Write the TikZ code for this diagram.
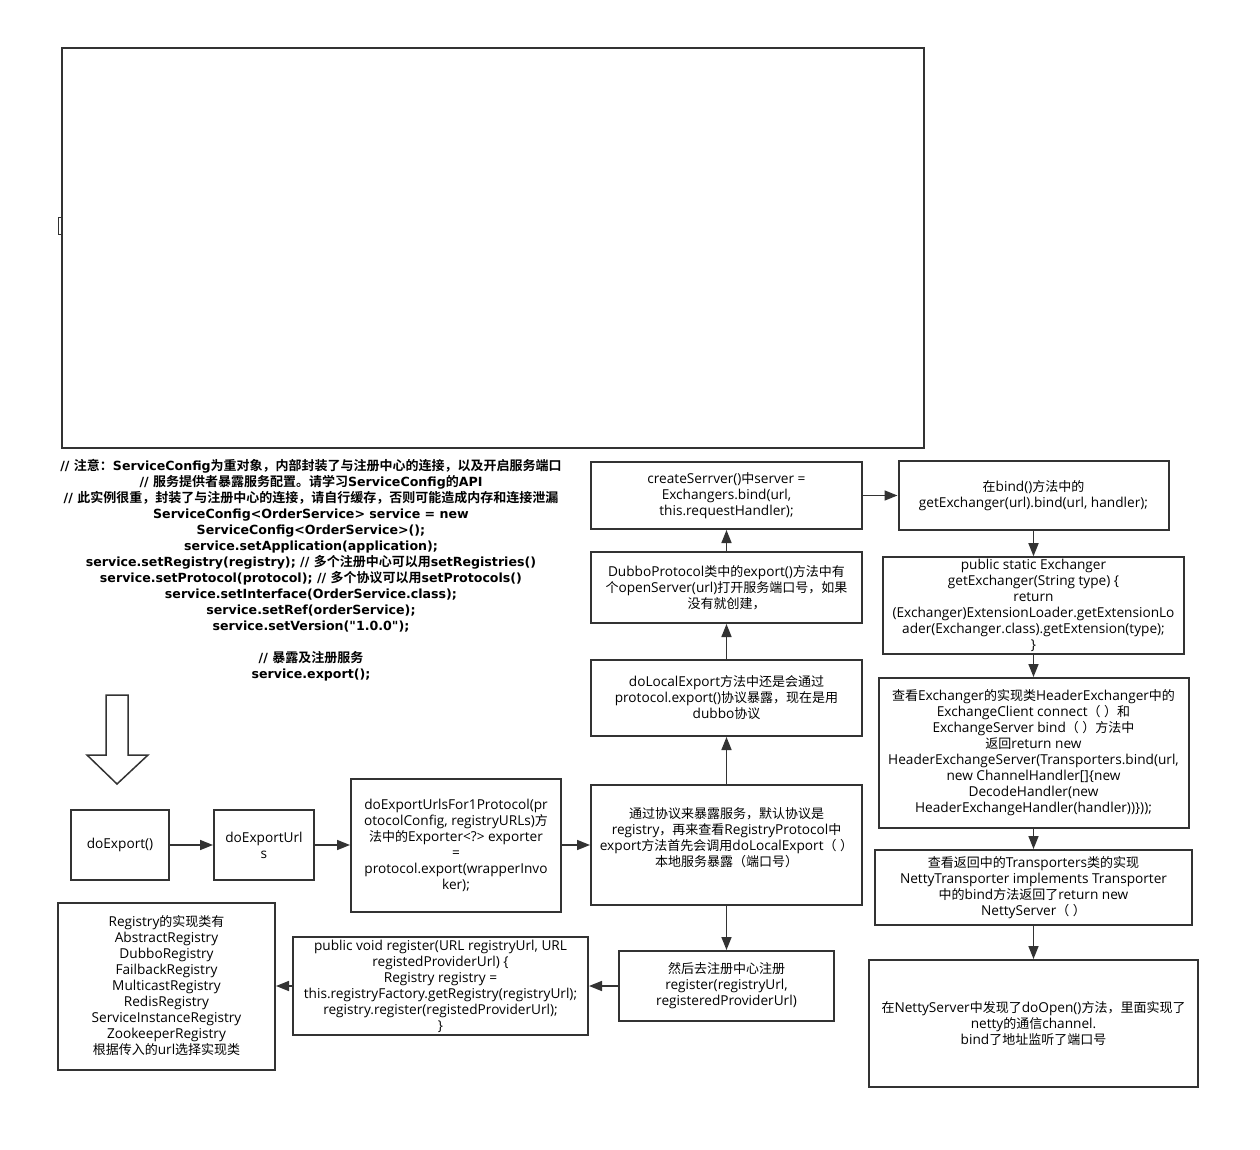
\documentclass[tikz,border=0pt]{standalone}
\usepackage{fontspec}
\setmainfont{Open Sans}[Scale=1.05]
\newfontfamily\openfam{Open Sans}[Scale=1.05]
\newfontfamily\codefam{DejaVu Sans}[Scale=0.97]
\newfontfamily\cjkfam{Noto Sans CJK SC}[BoldFont=* Bold]
% CJK characters go to the CJK family, the rest to the current latin family
\let\curlatin\openfam
\newcommand\latinfam{\curlatin}
\newXeTeXintercharclass\cjkcls
\newcount\cjkchar
\newcommand\setcjkrange[2]{\cjkchar=#1 \loop\XeTeXcharclass\cjkchar=\cjkcls \ifnum\cjkchar<#2 \advance\cjkchar by 1 \repeat}
\setcjkrange{"3000}{"303F}
\setcjkrange{"4E00}{"9FFF}
\setcjkrange{"FF00}{"FFEF}
\XeTeXinterchartoks 0 \cjkcls = {\cjkfam}
\XeTeXinterchartoks 4095 \cjkcls = {\cjkfam}
\XeTeXinterchartoks \cjkcls 0 = {\latinfam}
\XeTeXinterchartoks \cjkcls 4095 = {\latinfam}
\XeTeXinterchartokenstate=1
\usetikzlibrary{arrows.meta}
\definecolor{linec}{HTML}{333333}
\tikzset{
	box/.style={shape=rectangle, draw=linec, line width=2pt, align=center, inner sep=2pt, font=\fontsize{13}{16}\selectfont},
	wire/.style={draw=linec, line width=1.6pt, -{Triangle[length=13pt, width=10pt]}},
	codetext/.style={align=center, inner sep=0pt, font=\let\curlatin\codefam\codefam\fontsize{13}{16}\selectfont\bfseries},
}
\begin{document}
\begin{tikzpicture}[x=1pt, y=-1pt]
	\useasboundingbox (0,0) rectangle (1260,1150);
	% Boxes, texts and wires:
	\node[box, minimum width=862, minimum height=400] (frame) at (493,248) {};
	\node[draw=linec, line width=1pt, minimum width=4, minimum height=17, inner sep=0pt] (mark) at (60,226.5) {};
	\node[codetext] (note) at (311,570) {// 注意：ServiceConfig为重对象，内部封装了与注册中心的连接，以及开启服务端口\\
		// 服务提供者暴露服务配置。请学习ServiceConfig的API\\
		// 此实例很重，封装了与注册中心的连接，请自行缓存，否则可能造成内存和连接泄漏\\
		ServiceConfig<OrderService> service = new\\
		ServiceConfig<OrderService>();\\
		service.setApplication(application);\\
		service.setRegistry(registry); // 多个注册中心可以用setRegistries()\\
		service.setProtocol(protocol); // 多个协议可以用setProtocols()\\
		service.setInterface(OrderService.class);\\
		service.setRef(orderService);\\
		service.setVersion(\symbol{34}1.0.0\symbol{34});\\[16pt]
		// 暴露及注册服务\\
		service.export();};
	\draw[linec, line width=1.5pt, fill=white] (106,695) -- (128,695) -- (128,755) -- (148,755) -- (117,784) -- (87,755) -- (106,755) -- cycle;
	\node[box, minimum width=98, minimum height=70] (doexport) at (120,845) {doExport()};
	\node[box, minimum width=100, minimum height=70] (urls) at (264,845) {doExportUrl\\s};
	\node[box, minimum width=210, minimum height=133] (for1) at (456,845) {doExportUrlsFor1Protocol(pr\\otocolConfig, registryURLs)方\\法中的Exporter<?> exporter\\=\\protocol.export(wrapperInvo\\ker);};
	\node[box, minimum width=271, minimum height=120] (expose) at (726.5,845) {通过协议来暴露服务，默认协议是\\registry，再来查看RegistryProtocol中\\export方法首先会调用doLocalExport（ ）\\本地服务暴露（端口号）\\};
	\node[box, minimum width=271, minimum height=76] (local) at (726.5,698) {doLocalExport方法中还是会通过\\protocol.export()协议暴露，现在是用\\dubbo协议};
	\node[box, minimum width=271, minimum height=71] (dubbo) at (726.5,587.5) {DubboProtocol类中的export()方法中有\\个openServer(url)打开服务端口号，如果\\没有就创建，};
	\node[box, minimum width=271, minimum height=67] (create) at (726.5,495.5) {createSerrver()中server =\\Exchangers.bind(url,\\this.requestHandler);};
	\node[box, minimum width=270, minimum height=69] (bind) at (1033.5,495.5) {在bind()方法中的\\getExchanger(url).bind(url, handler);};
	\node[box, minimum width=301, minimum height=95] (getex) at (1033.5,605.5) {public static Exchanger\\getExchanger(String type) \{\\return\\(Exchanger)ExtensionLoader.getExtensionLo\\ader(Exchanger.class).getExtension(type);\\\}};
	\node[box, minimum width=310, minimum height=150] (header) at (1033.5,753) {查看Exchanger的实现类HeaderExchanger中的\\ExchangeClient connect（ ）和\\ExchangeServer bind（ ）方法中\\返回return new\\HeaderExchangeServer(Transporters.bind(url,\\new ChannelHandler[]\{new\\DecodeHandler(new\\HeaderExchangeHandler(handler))\}));};
	\node[box, minimum width=317, minimum height=75] (netty) at (1033.5,887.5) {查看返回中的Transporters类的实现\\NettyTransporter implements Transporter\\中的bind方法返回了return new\\NettyServer（ ）};
	\node[box, minimum width=329, minimum height=127] (open) at (1033.5,1023.5) {在NettyServer中发现了doOpen()方法，里面实现了\\netty的通信channel.\\bind了地址监听了端口号};
	\node[box, minimum width=215, minimum height=70] (reg) at (726.5,986) {然后去注册中心注册\\register(registryUrl,\\registeredProviderUrl)};
	\node[box, minimum width=295, minimum height=98] (register) at (440.5,986) {public void register(URL registryUrl, URL\\registedProviderUrl) \{\\Registry registry =\\this.registryFactory.getRegistry(registryUrl);\\registry.register(registedProviderUrl);\\\}};
	\node[box, minimum width=217, minimum height=167] (impl) at (166.5,986) {Registry的实现类有\\AbstractRegistry\\DubboRegistry\\FailbackRegistry\\MulticastRegistry\\RedisRegistry\\ServiceInstanceRegistry\\ZookeeperRegistry\\根据传入的url选择实现类};
	\draw[wire] (doexport) -- (urls);
	\draw[wire] (urls) -- (for1);
	\draw[wire] (for1) -- (expose);
	\draw[wire] (expose) -- (local);
	\draw[wire] (local) -- (dubbo);
	\draw[wire] (dubbo) -- (create);
	\draw[wire] (create) -- (bind);
	\draw[wire] (bind) -- (getex);
	\draw[wire] (getex) -- (header);
	\draw[wire] (header) -- (netty);
	\draw[wire] (netty) -- (open);
	\draw[wire] (expose) -- (reg);
	\draw[wire] (reg) -- (register);
	\draw[wire] (register) -- (impl);
\end{tikzpicture}
\end{document}
